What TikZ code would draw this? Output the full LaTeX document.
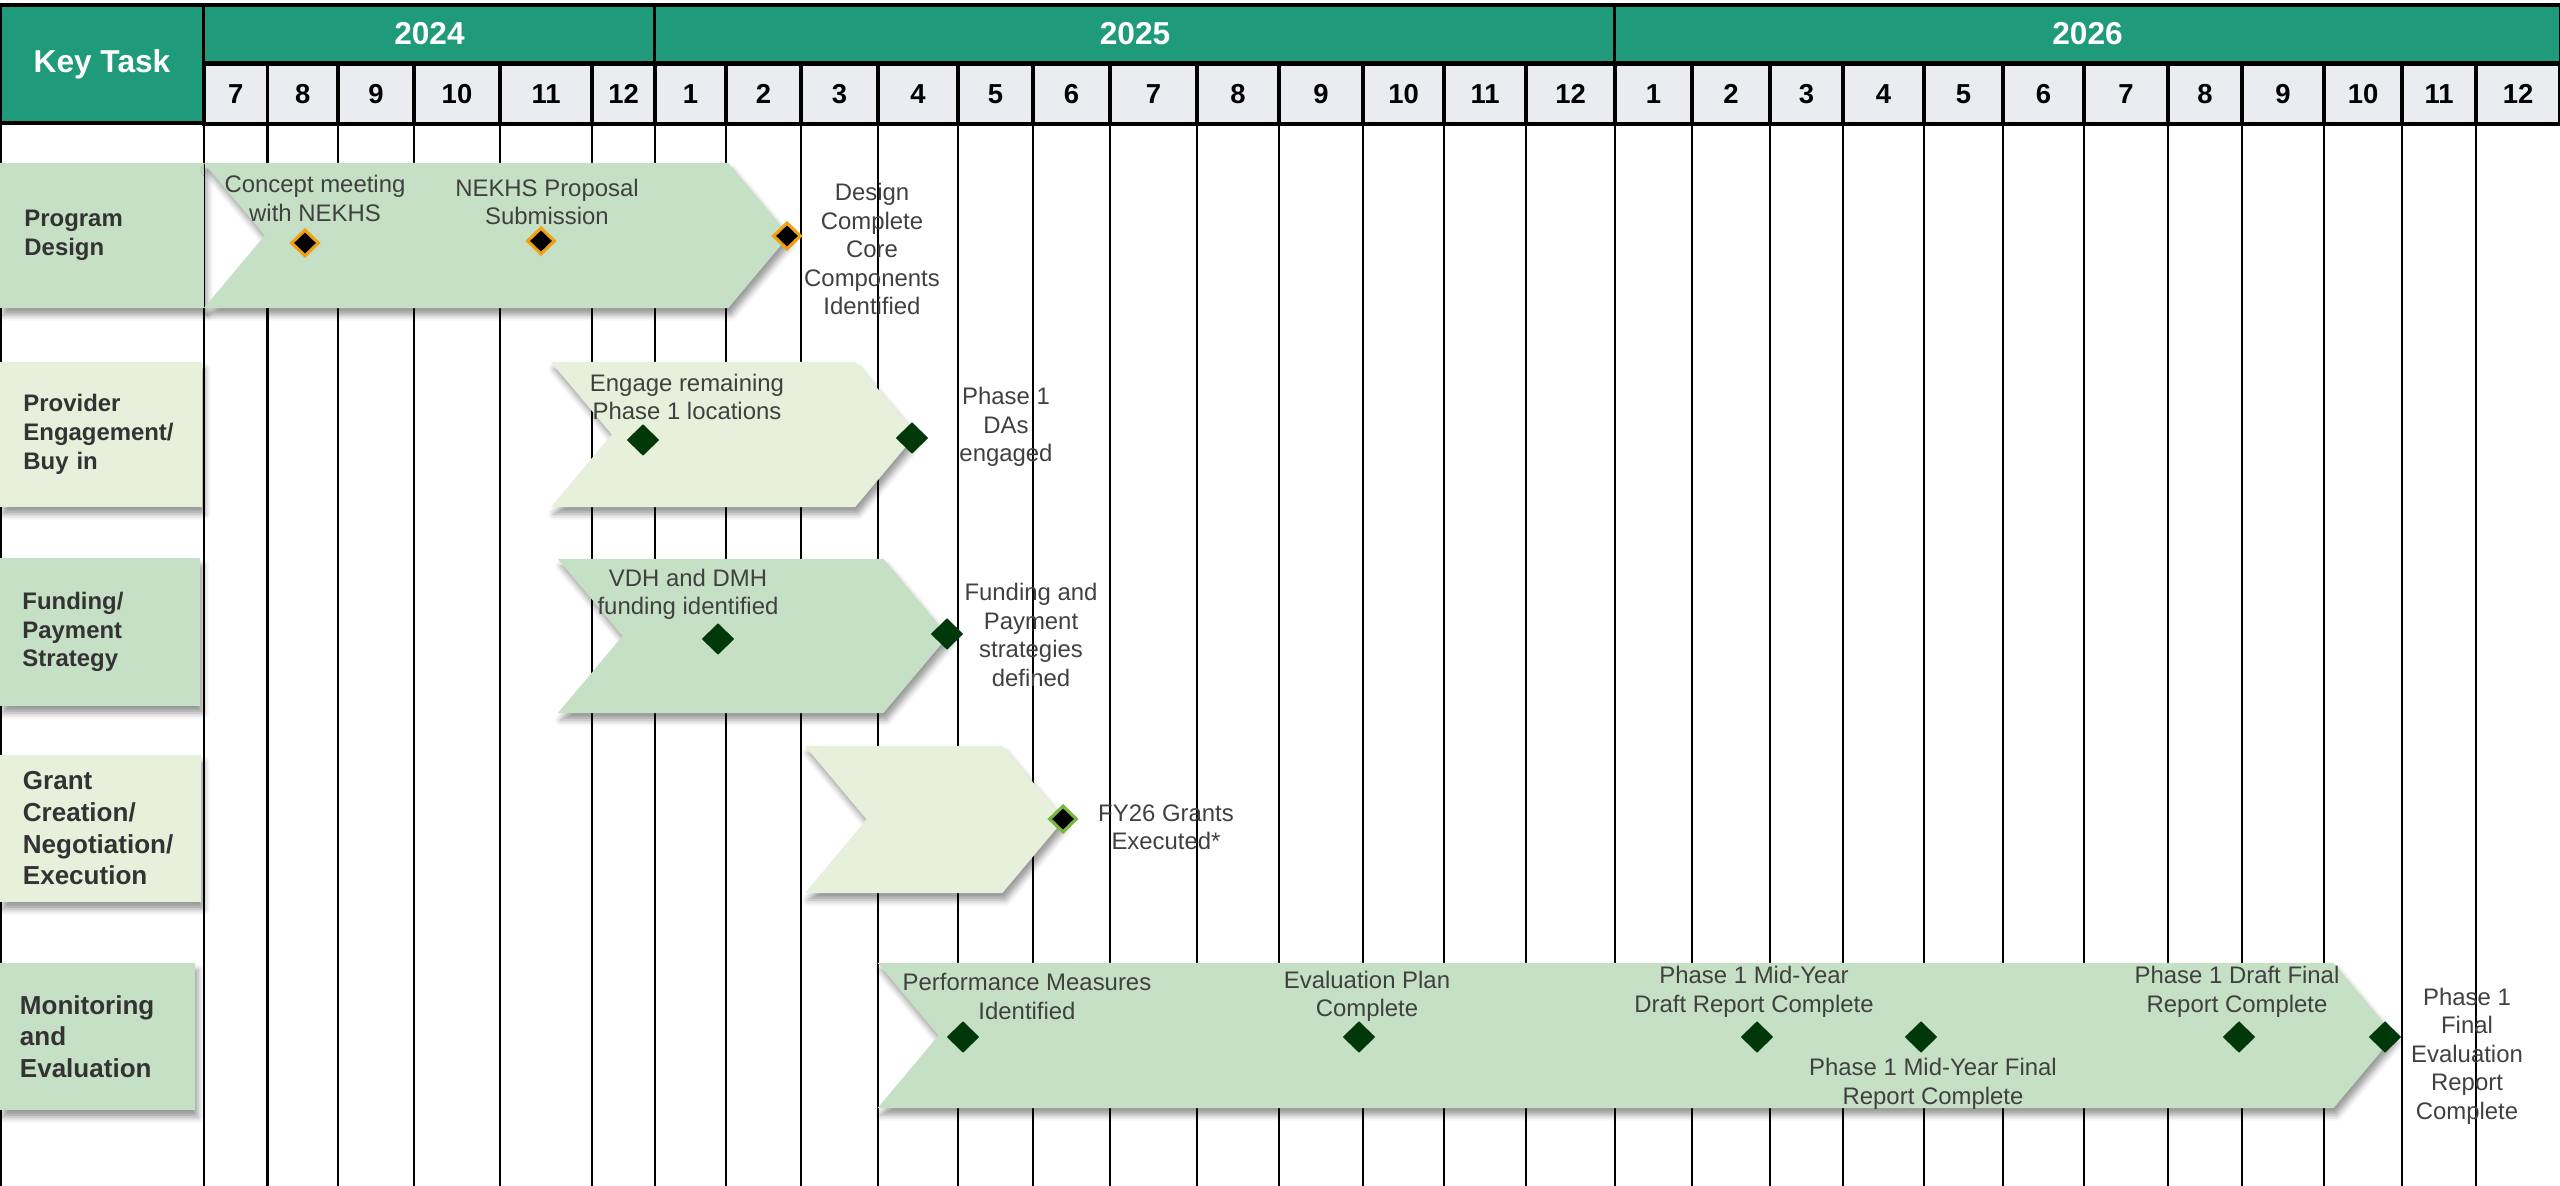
\documentclass[tikz,border=0pt]{standalone}
\usepackage{fontspec}
\setmainfont{Liberation Sans}
\usepackage{xcolor}
\usetikzlibrary{shapes,shapes.symbols,shapes.geometric,shadows.blur,positioning}

\definecolor{hdrgreen}{RGB}{31,155,123}
\definecolor{monthgray}{RGB}{234,236,240}
\definecolor{bandmid}{RGB}{197,224,197}
\definecolor{bandlight}{RGB}{230,240,218}
\definecolor{msgreen}{RGB}{0,56,10}
\definecolor{msorange}{RGB}{240,160,20}
\definecolor{mslime}{RGB}{124,182,66}
\definecolor{txtgray}{RGB}{64,64,64}
\definecolor{lblgray}{RGB}{51,51,51}

\begin{document}
\begin{tikzpicture}[
    x=0.01cm, y=-0.01cm,
    hdr/.style={rectangle, draw, line width=0.9pt, fill=hdrgreen, text=white, font=\bfseries\fontsize{9}{10}\selectfont, inner sep=0pt},
    monthcell/.style={rectangle, draw, line width=0.9pt, fill=monthgray, font=\bfseries\fontsize{7.8}{9}\selectfont, inner sep=0pt, minimum height=0.6cm},
    gridline/.style={line width=0.6pt},
    shade/.style={blur shadow={shadow xshift=0.03cm, shadow yshift=-0.07cm, shadow blur radius=0.06cm, shadow opacity=40}},
    taskbox/.style={rectangle, shade, minimum height=1.45cm, inner xsep=0.2cm, text width=1.55cm, align=left, text=lblgray, font=\bfseries\fontsize{6.8}{8.2}\selectfont},
    bigtask/.style={font=\bfseries\fontsize{7.4}{9}\selectfont},
    chev/.style={signal, signal from=west, signal to=east, signal pointer angle=100, shade, inner sep=0pt, minimum height=1.45cm},
    msdark/.style={diamond, inner sep=0pt, minimum width=0.33cm, minimum height=0.32cm, fill=msgreen},
    mskey/.style={diamond, inner sep=0pt, minimum width=0.28cm, minimum height=0.27cm, fill=black, draw=msorange, line width=0.9pt},
    msgrant/.style={diamond, inner sep=0pt, minimum width=0.28cm, minimum height=0.27cm, fill=black, draw=mslime, line width=0.9pt},
    mslabel/.style={align=center, text=txtgray, font=\fontsize{6.8}{8.1}\selectfont, inner sep=0pt},
]
    \useasboundingbox (0,0) rectangle (2560,1186);

    % Grid
    \foreach \gx in {1,204,267.5,338,414,500,592,655,726,801,878,958,1033,1110,1197,1279,1363,1444,1526,1615,1692,1770,1843,1924,2003,2084,2168,2242,2324,2402,2476}
        \draw[gridline] (\gx,123) -- (\gx,1186);

    % Header
    \node[hdr, minimum width=2.04cm, minimum height=1.18cm] (keytask) at (102,64) {Key Task};
    \node[hdr, minimum width=4.51cm, minimum height=0.58cm] (y2024) at (429.5,34) {2024};
    \node[hdr, minimum width=9.6cm, minimum height=0.58cm] (y2025) at (1135,34) {2025};
    \node[hdr, minimum width=9.45cm, minimum height=0.58cm] (y2026) at (2087.5,34) {2026};
    \foreach \a/\b/\m [count=\i, evaluate=\a as \w using {(\b-\a)*0.01}, evaluate=\a as \c using {(\a+\b)/2}] in
        {204/267.5/7, 267.5/338/8, 338/414/9, 414/500/10, 500/592/11, 592/655/12,
         655/726/1, 726/801/2, 801/878/3, 878/958/4, 958/1033/5, 1033/1110/6,
         1110/1197/7, 1197/1279/8, 1279/1363/9, 1363/1444/10, 1444/1526/11, 1526/1615/12,
         1615/1692/1, 1692/1770/2, 1770/1843/3, 1843/1924/4, 1924/2003/5, 2003/2084/6,
         2084/2168/7, 2168/2242/8, 2242/2324/9, 2324/2402/10, 2402/2476/11, 2476/2560/12}
        \node[monthcell, minimum width=\w cm] (m\i) at (\c,94) {\m};

    % Key tasks
    \node[taskbox, fill=bandmid, minimum width=2.04cm] (pdtask) at (102,235.5) {Program\\Design};
    \node[taskbox, fill=bandlight, minimum width=2.02cm] (petask) at (101,434.5) {Provider\\Engagement/\\Buy in};
    \node[taskbox, fill=bandmid, minimum width=2.0cm, minimum height=1.48cm] (fptask) at (100,632) {Funding/\\Payment\\Strategy};
    \node[taskbox, bigtask, fill=bandlight, minimum width=2.01cm, minimum height=1.47cm] (gctask) at (100.5,828.5) {Grant\\Creation/\\Negotiation/\\Execution};
    \node[taskbox, bigtask, fill=bandmid, minimum width=1.95cm, minimum height=1.47cm] (metask) at (97.5,1036.5) {Monitoring\\and\\Evaluation};

    % Bars
    \node[chev, fill=bandmid, minimum width=5.85cm] (pdbar) at (496.5,235.5) {};
    \node[chev, fill=bandlight, minimum width=3.65cm] (pebar) at (733.5,434.5) {};
    \node[chev, fill=bandmid, minimum width=3.9cm, minimum height=1.54cm] (fpbar) at (753,636) {};
    \node[chev, fill=bandlight, minimum width=2.59cm, minimum height=1.47cm] (gcbar) at (934.5,819.5) {};
    \node[chev, fill=bandmid, minimum width=15.16cm] (mebar) at (1636,1035.5) {};

    % Milestones
    \node[mskey] (pd1) at (305,243) {};
    \node[mskey] (pd2) at (541,241) {};
    \node[mskey] (pd3) at (787,236) {};
    \node[msdark] (pe1) at (643,440) {};
    \node[msdark] (pe2) at (912,438) {};
    \node[msdark] (fp1) at (718,639) {};
    \node[msdark] (fp2) at (947,634) {};
    \node[msgrant] (gc1) at (1063,819) {};
    \node[msdark] (me1) at (963,1037) {};
    \node[msdark] (me2) at (1359,1037) {};
    \node[msdark] (me3) at (1757,1037) {};
    \node[msdark] (me4) at (1921,1037) {};
    \node[msdark] (me5) at (2239,1037) {};
    \node[msdark] (me6) at (2385,1037) {};

    % Labels
    \node[mslabel] (pd1txt) at (315,198.5) {Concept meeting\\with NEKHS};
    \node[mslabel] (pd2txt) at (547,202) {NEKHS Proposal\\Submission};
    \node[mslabel] (pd3txt) at (872,249) {Design\\Complete\\Core\\Components\\Identified};
    \node[mslabel] (pe1txt) at (687,397) {Engage remaining\\Phase 1 locations};
    \node[mslabel] (pe2txt) at (1006,427) {Phase 1\\DAs\\engaged};
    \node[mslabel] (fp1txt) at (688,594.5) {VDH and DMH\\funding identified};
    \node[mslabel] (fp2txt) at (1031,635) {Funding and\\Payment\\strategies\\defined};
    \node[mslabel] (gc1txt) at (1166,827.5) {FY26 Grants\\Executed*};
    \node[mslabel] (me1txt) at (1027,996.5) {Performance Measures\\Identified};
    \node[mslabel] (me2txt) at (1367,996.5) {Evaluation Plan\\Complete};
    \node[mslabel] (me3txt) at (1754,992) {Phase 1 Mid-Year\\Draft Report Complete};
    \node[mslabel] (me4txt) at (1933,1084) {Phase 1 Mid-Year Final\\Report Complete};
    \node[mslabel] (me5txt) at (2237,992) {Phase 1 Draft Final\\Report Complete};
    \node[mslabel] (me6txt) at (2467,1056) {Phase 1\\Final\\Evaluation\\Report\\Complete};
\end{tikzpicture}
\end{document}
